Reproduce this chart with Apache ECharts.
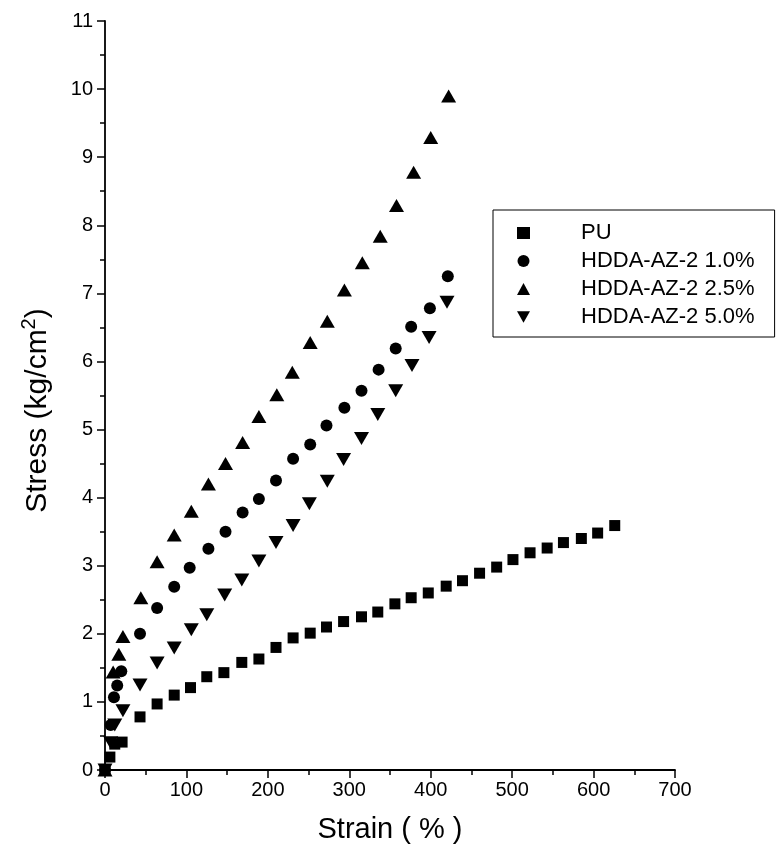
<!DOCTYPE html>
<html>
<head>
<meta charset="utf-8">
<script src="https://cdn.jsdelivr.net/npm/echarts@6/dist/echarts.min.js"></script>
<style>
  html, body { margin: 0; padding: 0; background: #fff; }
  #chart { width: 778px; height: 851px; }
</style>
</head>
<body>
<div id="chart"></div>
<script>
// Stress–strain curves: [strain %, stress kg/cm²]
const seriesNames = ['PU', 'HDDA-AZ-2 1.0%', 'HDDA-AZ-2 2.5%', 'HDDA-AZ-2 5.0%'];

const puData = [
  [0, 0], [6, 0.19], [12, 0.38], [21, 0.41], [43, 0.78], [64, 0.97], [85, 1.10],
  [105, 1.21], [125, 1.37], [146, 1.43], [168, 1.58], [189, 1.63], [210, 1.80],
  [231, 1.94], [252, 2.01], [272, 2.10], [293, 2.18], [315, 2.25], [335, 2.32],
  [356, 2.44], [376, 2.53], [397, 2.60], [419, 2.70], [439, 2.78], [460, 2.89],
  [481, 2.98], [501, 3.09], [522, 3.19], [543, 3.26], [563, 3.34], [585, 3.40],
  [605, 3.48], [626, 3.59]
];

const hdda10Data = [
  [0, 0], [7, 0.66], [11, 1.07], [15, 1.24], [20, 1.45], [43, 2.00], [64, 2.38],
  [85, 2.69], [104, 2.97], [127, 3.25], [148, 3.50], [169, 3.78], [189, 3.98],
  [210, 4.25], [231, 4.57], [252, 4.78], [272, 5.06], [294, 5.32], [315, 5.57],
  [336, 5.88], [357, 6.19], [376, 6.51], [399, 6.78], [421, 7.25]
];

const hdda25Data = [
  [0, 0], [10, 1.44], [17, 1.70], [22, 1.96], [44, 2.53], [64, 3.06], [85, 3.45],
  [106, 3.80], [127, 4.20], [148, 4.50], [169, 4.81], [189, 5.19], [211, 5.51],
  [230, 5.84], [252, 6.28], [273, 6.59], [294, 7.05], [316, 7.45], [338, 7.84],
  [358, 8.29], [379, 8.78], [400, 9.29], [422, 9.90]
];

const hdda50Data = [
  [0, 0], [7, 0.40], [12, 0.66], [22, 0.87], [43, 1.25], [64, 1.57], [85, 1.79],
  [106, 2.06], [125, 2.28], [147, 2.57], [168, 2.79], [189, 3.07], [210, 3.34],
  [231, 3.59], [251, 3.91], [273, 4.24], [293, 4.56], [315, 4.87], [335, 5.22],
  [357, 5.57], [377, 5.94], [398, 6.35], [420, 6.87]
];

const FONT = 'Liberation Sans, Arial, sans-serif';
const INK = '#000';
const DOWN_TRIANGLE = 'path://M0,0 L10,0 L5,9 Z';

const chart = echarts.init(document.getElementById('chart'), null, { renderer: 'canvas' });

const axisCommon = {
  axisLine: { show: true, lineStyle: { color: INK, width: 1.8 } },
  axisTick: { show: true, inside: false, length: 8, lineStyle: { color: INK, width: 1.5 } },
  minorTick: { show: true, splitNumber: 2, length: 5, lineStyle: { color: INK, width: 1.5 } },
  splitLine: { show: false },
  axisLabel: { color: INK, fontFamily: FONT, fontSize: 20 }
};

function scatter(name, data, symbol, size, rotate) {
  return {
    name: name,
    type: 'scatter',
    data: data,
    symbol: symbol,
    symbolSize: size,
    symbolRotate: rotate || 0,
    itemStyle: { color: INK, opacity: 1 },
    emphasis: { disabled: true },
    animation: false
  };
}

chart.setOption({
  backgroundColor: '#fff',
  animation: false,
  grid: { left: 105, right: 103, top: 21, bottom: 81, containLabel: false },
  xAxis: Object.assign({}, axisCommon, {
    type: 'value',
    min: 0, max: 700, interval: 100,
    name: 'Strain ( % )',
    nameLocation: 'middle',
    nameGap: 45,
    nameTextStyle: { color: INK, fontFamily: FONT, fontSize: 29 },
    axisLabel: Object.assign({}, axisCommon.axisLabel, { margin: 10 })
  }),
  yAxis: Object.assign({}, axisCommon, {
    type: 'value',
    min: 0, max: 11, interval: 1,
    name: 'Stress (kg/cm{sup|2})',
    nameLocation: 'middle',
    nameGap: 48,
    nameRotate: 90,
    nameTextStyle: {
      color: INK, fontFamily: FONT, fontSize: 30,
      padding: [0, 30, 0, 0],
      rich: {
        sup: { fontFamily: FONT, fontSize: 20, color: INK, verticalAlign: 'top', padding: [0, 0, 18, 0] }
      }
    },
    axisLabel: Object.assign({}, axisCommon.axisLabel, { margin: 12 })
  }),
  legend: {
    data: [
      { name: seriesNames[0], icon: 'rect' },
      { name: seriesNames[1], icon: 'circle' },
      { name: seriesNames[2], icon: 'triangle' },
      { name: seriesNames[3], icon: DOWN_TRIANGLE }
    ],
    orient: 'vertical',
    left: 493,
    top: 210,
    itemWidth: 13,
    itemHeight: 12,
    itemGap: 6,
    padding: [12, 20, 9, 24],
    borderColor: INK,
    borderWidth: 1,
    selectedMode: false,
    textStyle: { color: INK, fontFamily: FONT, fontSize: 22, lineHeight: 22, padding: [0, 0, 0, 46] }
  },
  series: [
    scatter(seriesNames[0], puData, 'rect', 11),
    scatter(seriesNames[1], hdda10Data, 'circle', 12),
    scatter(seriesNames[2], hdda25Data, 'triangle', [15, 13]),
    scatter(seriesNames[3], hdda50Data, 'triangle', [15, 13], 180)
  ]
});
</script>
</body>
</html>
